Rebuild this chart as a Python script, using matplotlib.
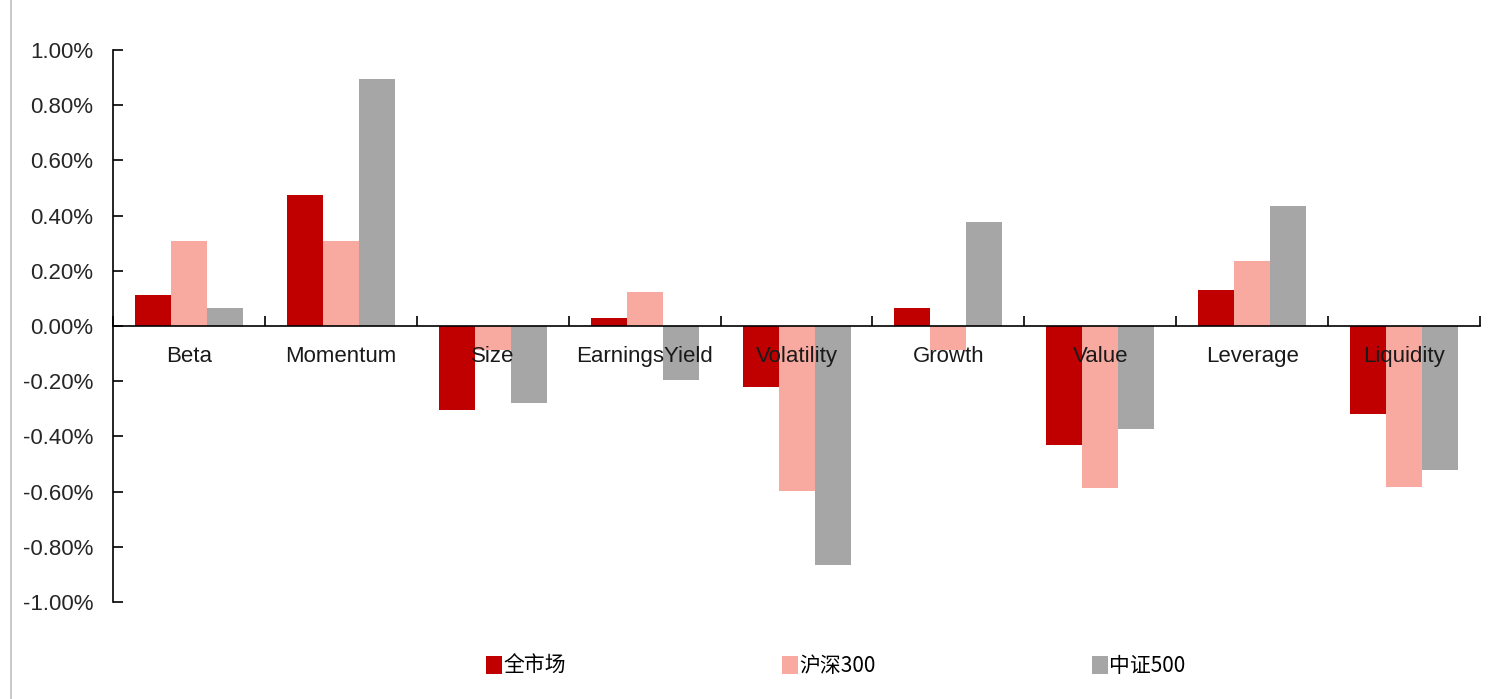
import numpy as np
import matplotlib.pyplot as plt
from matplotlib.lines import Line2D
from matplotlib.patches import Patch
from matplotlib.ticker import FuncFormatter

plt.rcParams['font.family'] = ['Liberation Sans', 'Noto Sans CJK SC', 'DejaVu Sans']

factors = ['Beta', 'Momentum', 'Size', 'EarningsYield', 'Volatility',
           'Growth', 'Value', 'Leverage', 'Liquidity']
series_names = ['全市场', '沪深300', '中证500']
# 因子收益（%）
all_market = [0.112, 0.475, -0.304, 0.029, -0.221, 0.065, -0.431, 0.130, -0.319]
hs300 = [0.308, 0.308, -0.087, 0.123, -0.598, -0.087, -0.587, 0.235, -0.583]
zz500 = [0.065, 0.895, -0.279, -0.196, -0.866, 0.377, -0.373, 0.435, -0.522]

colors = ['#C00000', '#F8A9A0', '#A6A6A6']

fig = plt.figure(figsize=(15.03, 6.99), dpi=100)
ax = fig.add_axes([0.0752, 0.1388, 0.9095, 0.7897])

x = np.arange(len(factors))
w = 0.237
for i, (vals, c) in enumerate(zip([all_market, hs300, zz500], colors)):
    ax.bar(x + (i - 1) * w, vals, width=w, color=c, zorder=2)

ax.set_xlim(-0.5, len(factors) - 0.5)
ax.set_ylim(-1.0, 1.0)
ax.set_yticks(np.arange(-1.0, 1.01, 0.2))
ax.yaxis.set_major_formatter(FuncFormatter(lambda v, p: f'{v + 0.0:.2f}%'.replace('-0.00', '0.00')))

for s in ['top', 'right']:
    ax.spines[s].set_visible(False)
ax.spines['bottom'].set_position(('data', 0))
ax.spines['bottom'].set_zorder(3)
ax.spines['left'].set_linewidth(1.2)
ax.spines['bottom'].set_linewidth(1.2)

ax.tick_params(axis='y', direction='in', length=7, width=1.2, labelsize=16,
               labelcolor='#262626', pad=14)
ax.set_xticks(np.arange(-0.5, len(factors), 1.0))
ax.set_xticklabels([])
ax.tick_params(axis='x', direction='in', length=7, width=1.2)

# 类别标签画在柱子上方
for xi, name in zip(x, factors):
    ax.annotate(name, (xi, 0), xytext=(0, -31), textcoords='offset pixels',
                ha='center', va='center', fontsize=16, color='#1a1a1a',
                zorder=6, annotation_clip=False)

handles = [Patch(facecolor=c, edgecolor='none') for c in colors]
fig.legend(handles, series_names, loc='center', bbox_to_anchor=(0.556, 0.047),
           ncol=3, frameon=False, handlelength=0.75, handleheight=0.95,
           handletextpad=0.05, columnspacing=10.4,
           prop={'family': ['Noto Sans CJK SC', 'DejaVu Sans'], 'size': 15})

fig.add_artist(Line2D([11 / 1503, 11 / 1503], [0, 1], color='#BFBFBF', lw=1.2,
                      transform=fig.transFigure))

fig.savefig('out.png', dpi=100)
